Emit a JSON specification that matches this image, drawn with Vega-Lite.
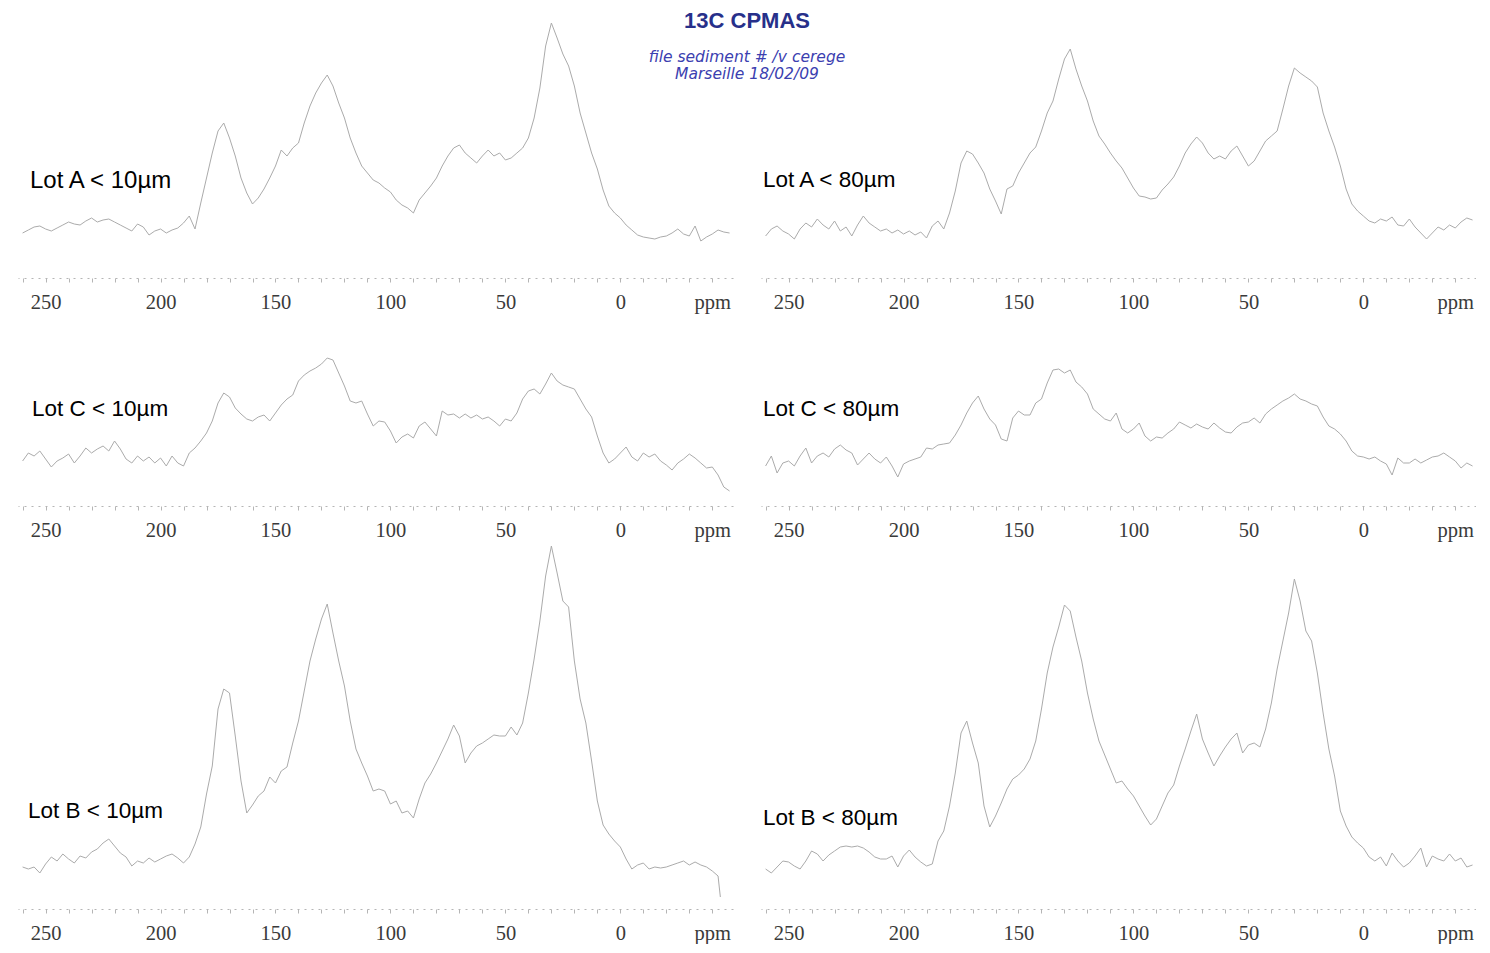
{
  "$schema": "https://vega.github.io/schema/vega-lite/v6.json",
  "background": "white",
  "padding": {"left": 18, "top": 9, "right": 0, "bottom": 0},
  "title": {
    "text": "13C CPMAS",
    "subtitle": ["file sediment # /v cerege", "Marseille 18/02/09"],
    "anchor": "middle",
    "offset": -72,
    "font": "Liberation Sans",
    "fontSize": 22,
    "fontWeight": "bold",
    "color": "#27308a",
    "subtitleFont": "DejaVu Sans",
    "subtitleFontStyle": "italic",
    "subtitleFontSize": 15.5,
    "subtitleColor": "#3b40b0",
    "subtitlePadding": 17,
    "subtitleLineHeight": 17
  },
  "data": {
    "values": [
      {"ppm": 260, "A10": 45, "A80": 42, "C10": 45, "C80": 40, "B10": 42, "B80": 40},
      {"ppm": 257.5, "A10": 48, "A80": 49, "C10": 53, "C80": 50, "B10": 40, "B80": 36},
      {"ppm": 255, "A10": 51, "A80": 52, "C10": 50, "C80": 33, "B10": 42, "B80": 42},
      {"ppm": 252.5, "A10": 52, "A80": 47, "C10": 55, "C80": 43, "B10": 36, "B80": 48},
      {"ppm": 250, "A10": 49, "A80": 44, "C10": 47, "C80": 45, "B10": 45, "B80": 47},
      {"ppm": 247.5, "A10": 47, "A80": 39, "C10": 39, "C80": 40, "B10": 52, "B80": 43},
      {"ppm": 245, "A10": 50, "A80": 49, "C10": 45, "C80": 50, "B10": 48, "B80": 40},
      {"ppm": 242.5, "A10": 53, "A80": 55, "C10": 48, "C80": 58, "B10": 55, "B80": 48},
      {"ppm": 240, "A10": 56, "A80": 51, "C10": 52, "C80": 43, "B10": 50, "B80": 58},
      {"ppm": 237.5, "A10": 54, "A80": 59, "C10": 43, "C80": 50, "B10": 46, "B80": 55},
      {"ppm": 235, "A10": 53, "A80": 53, "C10": 50, "C80": 53, "B10": 53, "B80": 48},
      {"ppm": 232.5, "A10": 57, "A80": 49, "C10": 58, "C80": 49, "B10": 51, "B80": 54},
      {"ppm": 230, "A10": 60, "A80": 57, "C10": 53, "C80": 57, "B10": 57, "B80": 58},
      {"ppm": 227.5, "A10": 56, "A80": 47, "C10": 57, "C80": 61, "B10": 60, "B80": 62},
      {"ppm": 225, "A10": 58, "A80": 51, "C10": 60, "C80": 56, "B10": 66, "B80": 63},
      {"ppm": 222.5, "A10": 59, "A80": 42, "C10": 55, "C80": 53, "B10": 70, "B80": 62},
      {"ppm": 220, "A10": 56, "A80": 53, "C10": 65, "C80": 41, "B10": 63, "B80": 63},
      {"ppm": 217.5, "A10": 53, "A80": 62, "C10": 57, "C80": 47, "B10": 56, "B80": 61},
      {"ppm": 215, "A10": 50, "A80": 55, "C10": 47, "C80": 53, "B10": 52, "B80": 57},
      {"ppm": 212.5, "A10": 47, "A80": 51, "C10": 43, "C80": 47, "B10": 43, "B80": 52},
      {"ppm": 210, "A10": 54, "A80": 47, "C10": 50, "C80": 43, "B10": 48, "B80": 50},
      {"ppm": 207.5, "A10": 51, "A80": 49, "C10": 45, "C80": 49, "B10": 46, "B80": 50},
      {"ppm": 205, "A10": 43, "A80": 45, "C10": 49, "C80": 40, "B10": 51, "B80": 53},
      {"ppm": 202.5, "A10": 47, "A80": 48, "C10": 43, "C80": 29, "B10": 47, "B80": 42},
      {"ppm": 200, "A10": 49, "A80": 44, "C10": 48, "C80": 42, "B10": 50, "B80": 53},
      {"ppm": 197.5, "A10": 45, "A80": 47, "C10": 40, "C80": 45, "B10": 53, "B80": 59},
      {"ppm": 195, "A10": 48, "A80": 43, "C10": 50, "C80": 47, "B10": 55, "B80": 52},
      {"ppm": 192.5, "A10": 50, "A80": 46, "C10": 43, "C80": 49, "B10": 51, "B80": 47},
      {"ppm": 190, "A10": 55, "A80": 40, "C10": 40, "C80": 58, "B10": 46, "B80": 43},
      {"ppm": 187.5, "A10": 62, "A80": 52, "C10": 53, "C80": 57, "B10": 52, "B80": 45},
      {"ppm": 185, "A10": 49, "A80": 57, "C10": 58, "C80": 61, "B10": 65, "B80": 68},
      {"ppm": 182.5, "A10": 75, "A80": 49, "C10": 65, "C80": 62, "B10": 82, "B80": 78},
      {"ppm": 180, "A10": 100, "A80": 65, "C10": 73, "C80": 63, "B10": 115, "B80": 103},
      {"ppm": 177.5, "A10": 125, "A80": 87, "C10": 85, "C80": 71, "B10": 143, "B80": 136},
      {"ppm": 175, "A10": 147, "A80": 115, "C10": 103, "C80": 81, "B10": 200, "B80": 176},
      {"ppm": 172.5, "A10": 155, "A80": 127, "C10": 113, "C80": 93, "B10": 220, "B80": 188},
      {"ppm": 170, "A10": 140, "A80": 124, "C10": 109, "C80": 103, "B10": 216, "B80": 166},
      {"ppm": 167.5, "A10": 122, "A80": 115, "C10": 98, "C80": 110, "B10": 173, "B80": 146},
      {"ppm": 165, "A10": 100, "A80": 105, "C10": 92, "C80": 97, "B10": 128, "B80": 103},
      {"ppm": 162.5, "A10": 85, "A80": 89, "C10": 87, "C80": 87, "B10": 96, "B80": 82},
      {"ppm": 160, "A10": 74, "A80": 77, "C10": 85, "C80": 81, "B10": 104, "B80": 93},
      {"ppm": 157.5, "A10": 80, "A80": 64, "C10": 89, "C80": 67, "B10": 113, "B80": 106},
      {"ppm": 155, "A10": 89, "A80": 89, "C10": 91, "C80": 65, "B10": 118, "B80": 120},
      {"ppm": 152.5, "A10": 100, "A80": 92, "C10": 85, "C80": 88, "B10": 132, "B80": 130},
      {"ppm": 150, "A10": 112, "A80": 105, "C10": 93, "C80": 95, "B10": 126, "B80": 134},
      {"ppm": 147.5, "A10": 128, "A80": 115, "C10": 101, "C80": 91, "B10": 138, "B80": 140},
      {"ppm": 145, "A10": 122, "A80": 125, "C10": 107, "C80": 91, "B10": 142, "B80": 150},
      {"ppm": 142.5, "A10": 130, "A80": 131, "C10": 111, "C80": 103, "B10": 166, "B80": 168},
      {"ppm": 140, "A10": 135, "A80": 147, "C10": 125, "C80": 107, "B10": 188, "B80": 200},
      {"ppm": 137.5, "A10": 155, "A80": 165, "C10": 131, "C80": 123, "B10": 218, "B80": 236},
      {"ppm": 135, "A10": 172, "A80": 177, "C10": 135, "C80": 136, "B10": 248, "B80": 262},
      {"ppm": 132.5, "A10": 185, "A80": 199, "C10": 138, "C80": 137, "B10": 270, "B80": 282},
      {"ppm": 130, "A10": 195, "A80": 219, "C10": 142, "C80": 133, "B10": 290, "B80": 304},
      {"ppm": 127.5, "A10": 203, "A80": 229, "C10": 148, "C80": 136, "B10": 305, "B80": 298},
      {"ppm": 125, "A10": 192, "A80": 209, "C10": 146, "C80": 124, "B10": 276, "B80": 272},
      {"ppm": 122.5, "A10": 175, "A80": 192, "C10": 133, "C80": 119, "B10": 248, "B80": 248},
      {"ppm": 120, "A10": 160, "A80": 177, "C10": 120, "C80": 112, "B10": 223, "B80": 216},
      {"ppm": 117.5, "A10": 140, "A80": 157, "C10": 105, "C80": 97, "B10": 188, "B80": 190},
      {"ppm": 115, "A10": 125, "A80": 142, "C10": 103, "C80": 92, "B10": 160, "B80": 168},
      {"ppm": 112.5, "A10": 112, "A80": 134, "C10": 105, "C80": 87, "B10": 146, "B80": 154},
      {"ppm": 110, "A10": 105, "A80": 125, "C10": 92, "C80": 85, "B10": 133, "B80": 140},
      {"ppm": 107.5, "A10": 98, "A80": 117, "C10": 80, "C80": 93, "B10": 118, "B80": 126},
      {"ppm": 105, "A10": 95, "A80": 110, "C10": 85, "C80": 77, "B10": 120, "B80": 128},
      {"ppm": 102.5, "A10": 90, "A80": 100, "C10": 84, "C80": 73, "B10": 118, "B80": 120},
      {"ppm": 100, "A10": 86, "A80": 90, "C10": 75, "C80": 77, "B10": 105, "B80": 113},
      {"ppm": 97.5, "A10": 78, "A80": 82, "C10": 63, "C80": 83, "B10": 108, "B80": 103},
      {"ppm": 95, "A10": 73, "A80": 81, "C10": 69, "C80": 70, "B10": 96, "B80": 93},
      {"ppm": 92.5, "A10": 70, "A80": 79, "C10": 72, "C80": 65, "B10": 98, "B80": 84},
      {"ppm": 90, "A10": 65, "A80": 80, "C10": 68, "C80": 69, "B10": 91, "B80": 90},
      {"ppm": 87.5, "A10": 78, "A80": 88, "C10": 80, "C80": 68, "B10": 110, "B80": 103},
      {"ppm": 85, "A10": 85, "A80": 94, "C10": 84, "C80": 73, "B10": 126, "B80": 116},
      {"ppm": 82.5, "A10": 92, "A80": 101, "C10": 77, "C80": 77, "B10": 135, "B80": 124},
      {"ppm": 80, "A10": 100, "A80": 112, "C10": 70, "C80": 84, "B10": 146, "B80": 143},
      {"ppm": 77.5, "A10": 112, "A80": 125, "C10": 95, "C80": 81, "B10": 158, "B80": 160},
      {"ppm": 75, "A10": 122, "A80": 134, "C10": 91, "C80": 78, "B10": 170, "B80": 178},
      {"ppm": 72.5, "A10": 130, "A80": 141, "C10": 92, "C80": 82, "B10": 184, "B80": 195},
      {"ppm": 70, "A10": 133, "A80": 135, "C10": 88, "C80": 79, "B10": 173, "B80": 170},
      {"ppm": 67.5, "A10": 125, "A80": 125, "C10": 92, "C80": 77, "B10": 146, "B80": 156},
      {"ppm": 65, "A10": 120, "A80": 119, "C10": 88, "C80": 83, "B10": 156, "B80": 143},
      {"ppm": 62.5, "A10": 115, "A80": 122, "C10": 91, "C80": 78, "B10": 163, "B80": 153},
      {"ppm": 60, "A10": 122, "A80": 119, "C10": 87, "C80": 74, "B10": 166, "B80": 162},
      {"ppm": 57.5, "A10": 128, "A80": 127, "C10": 89, "C80": 73, "B10": 170, "B80": 170},
      {"ppm": 55, "A10": 122, "A80": 132, "C10": 85, "C80": 79, "B10": 174, "B80": 176},
      {"ppm": 52.5, "A10": 125, "A80": 122, "C10": 80, "C80": 83, "B10": 173, "B80": 156},
      {"ppm": 50, "A10": 118, "A80": 112, "C10": 87, "C80": 84, "B10": 173, "B80": 164},
      {"ppm": 47.5, "A10": 120, "A80": 117, "C10": 85, "C80": 88, "B10": 182, "B80": 166},
      {"ppm": 45, "A10": 125, "A80": 127, "C10": 93, "C80": 83, "B10": 174, "B80": 162},
      {"ppm": 42.5, "A10": 130, "A80": 137, "C10": 107, "C80": 92, "B10": 186, "B80": 180},
      {"ppm": 40, "A10": 140, "A80": 142, "C10": 115, "C80": 97, "B10": 216, "B80": 206},
      {"ppm": 37.5, "A10": 160, "A80": 147, "C10": 117, "C80": 101, "B10": 250, "B80": 240},
      {"ppm": 35, "A10": 190, "A80": 169, "C10": 112, "C80": 105, "B10": 288, "B80": 268},
      {"ppm": 32.5, "A10": 232, "A80": 192, "C10": 122, "C80": 108, "B10": 333, "B80": 296},
      {"ppm": 30, "A10": 255, "A80": 210, "C10": 133, "C80": 112, "B10": 363, "B80": 330},
      {"ppm": 27.5, "A10": 240, "A80": 205, "C10": 125, "C80": 107, "B10": 336, "B80": 308},
      {"ppm": 25, "A10": 224, "A80": 201, "C10": 121, "C80": 105, "B10": 308, "B80": 278},
      {"ppm": 22.5, "A10": 212, "A80": 197, "C10": 119, "C80": 102, "B10": 302, "B80": 268},
      {"ppm": 20, "A10": 192, "A80": 191, "C10": 117, "C80": 100, "B10": 248, "B80": 236},
      {"ppm": 17.5, "A10": 165, "A80": 165, "C10": 107, "C80": 89, "B10": 210, "B80": 196},
      {"ppm": 15, "A10": 145, "A80": 147, "C10": 97, "C80": 80, "B10": 186, "B80": 160},
      {"ppm": 12.5, "A10": 125, "A80": 131, "C10": 89, "C80": 77, "B10": 148, "B80": 133},
      {"ppm": 10, "A10": 109, "A80": 112, "C10": 70, "C80": 72, "B10": 108, "B80": 98},
      {"ppm": 7.5, "A10": 88, "A80": 89, "C10": 53, "C80": 65, "B10": 84, "B80": 83},
      {"ppm": 5, "A10": 72, "A80": 74, "C10": 43, "C80": 55, "B10": 75, "B80": 72},
      {"ppm": 2.5, "A10": 65, "A80": 67, "C10": 47, "C80": 50, "B10": 68, "B80": 66},
      {"ppm": 0, "A10": 60, "A80": 62, "C10": 53, "C80": 49, "B10": 62, "B80": 61},
      {"ppm": -2.5, "A10": 53, "A80": 57, "C10": 59, "C80": 47, "B10": 50, "B80": 52},
      {"ppm": -5, "A10": 48, "A80": 55, "C10": 49, "C80": 49, "B10": 40, "B80": 48},
      {"ppm": -7.5, "A10": 43, "A80": 59, "C10": 45, "C80": 45, "B10": 44, "B80": 52},
      {"ppm": -10, "A10": 41, "A80": 57, "C10": 53, "C80": 42, "B10": 46, "B80": 43},
      {"ppm": -12.5, "A10": 40, "A80": 61, "C10": 49, "C80": 31, "B10": 40, "B80": 56},
      {"ppm": -15, "A10": 39, "A80": 53, "C10": 52, "C80": 48, "B10": 42, "B80": 48},
      {"ppm": -17.5, "A10": 41, "A80": 52, "C10": 45, "C80": 43, "B10": 41, "B80": 42},
      {"ppm": -20, "A10": 42, "A80": 59, "C10": 41, "C80": 43, "B10": 42, "B80": 46},
      {"ppm": -22.5, "A10": 45, "A80": 51, "C10": 36, "C80": 47, "B10": 44, "B80": 53},
      {"ppm": -25, "A10": 49, "A80": 45, "C10": 43, "C80": 43, "B10": 46, "B80": 61},
      {"ppm": -27.5, "A10": 44, "A80": 39, "C10": 47, "C80": 46, "B10": 48, "B80": 42},
      {"ppm": -30, "A10": 42, "A80": 45, "C10": 52, "C80": 49, "B10": 44, "B80": 53},
      {"ppm": -32.5, "A10": 52, "A80": 51, "C10": 48, "C80": 50, "B10": 47, "B80": 50},
      {"ppm": -35, "A10": 37, "A80": 48, "C10": 43, "C80": 53, "B10": 44, "B80": 48},
      {"ppm": -37.5, "A10": 41, "A80": 53, "C10": 38, "C80": 49, "B10": 42, "B80": 55},
      {"ppm": -40, "A10": 44, "A80": 50, "C10": 39, "C80": 45, "B10": 38, "B80": 48},
      {"ppm": -42.5, "A10": 48, "A80": 56, "C10": 31, "C80": 38, "B10": 33, "B80": 51},
      {"ppm": -43.5, "B10": 12},
      {"ppm": -45, "A10": 46, "A80": 60, "C10": 19, "C80": 43, "B80": 42},
      {"ppm": -47.5, "A10": 45, "A80": 58, "C10": 15, "C80": 40, "B80": 44}
    ]
  },
  "columns": 2,
  "spacing": {"row": 40, "column": 28},
  "bounds": "flush",
  "concat": [
    {
      "width": 715, "height": 267,
      "title": {"text": "Lot A < 10µm", "anchor": "start", "frame": "group", "dx": 12, "offset": -194, "baseline": "middle", "font": "Liberation Sans", "fontSize": 24, "fontWeight": "normal", "color": "#000000"},
      "transform": [{"filter": "isValid(datum.A10)"}],
      "mark": {"type": "line", "color": "#ababab", "strokeWidth": 1},
      "encoding": {
        "x": {"field": "ppm", "type": "quantitative", "scale": {"domain": [-49, 262], "reverse": true, "nice": false},
          "axis": {"title": null, "grid": false, "values": [-40,-30,-20,-10,0,10,20,30,40,50,60,70,80,90,100,110,120,130,140,150,160,170,180,190,200,210,220,230,240,250,260],
            "labelExpr": "datum.value === -40 ? 'ppm' : (datum.value % 50 === 0 ? datum.label : '')",
            "domainColor": "#b5b5b5", "domainDash": [2, 5], "tickColor": "#b5b5b5", "tickSize": 4,
            "labelFont": "Liberation Serif", "labelFontSize": 20.5, "labelColor": "#3a3a3a", "labelPadding": 10, "labelOverlap": false, "labelFlush": false}},
        "y": {"field": "A10", "type": "quantitative", "scale": {"domain": [0, 267], "nice": false}, "axis": null}
      }
    },
    {
      "width": 715, "height": 267,
      "title": {"text": "Lot A < 80µm", "anchor": "start", "frame": "group", "dx": 2, "offset": -191, "baseline": "middle", "font": "Liberation Sans", "fontSize": 22.5, "fontWeight": "normal", "color": "#000000"},
      "transform": [{"filter": "isValid(datum.A80)"}],
      "mark": {"type": "line", "color": "#ababab", "strokeWidth": 1},
      "encoding": {
        "x": {"field": "ppm", "type": "quantitative", "scale": {"domain": [-49, 262], "reverse": true, "nice": false},
          "axis": {"title": null, "grid": false, "values": [-40,-30,-20,-10,0,10,20,30,40,50,60,70,80,90,100,110,120,130,140,150,160,170,180,190,200,210,220,230,240,250,260],
            "labelExpr": "datum.value === -40 ? 'ppm' : (datum.value % 50 === 0 ? datum.label : '')",
            "domainColor": "#b5b5b5", "domainDash": [2, 5], "tickColor": "#b5b5b5", "tickSize": 4,
            "labelFont": "Liberation Serif", "labelFontSize": 20.5, "labelColor": "#3a3a3a", "labelPadding": 10, "labelOverlap": false, "labelFlush": false}},
        "y": {"field": "A80", "type": "quantitative", "scale": {"domain": [0, 267], "nice": false}, "axis": null}
      }
    },
    {
      "width": 715, "height": 188,
      "title": {"text": "Lot C < 10µm", "anchor": "start", "frame": "group", "dx": 14, "offset": -113, "baseline": "middle", "font": "Liberation Sans", "fontSize": 22.5, "fontWeight": "normal", "color": "#000000"},
      "transform": [{"filter": "isValid(datum.C10)"}],
      "mark": {"type": "line", "color": "#ababab", "strokeWidth": 1},
      "encoding": {
        "x": {"field": "ppm", "type": "quantitative", "scale": {"domain": [-49, 262], "reverse": true, "nice": false},
          "axis": {"title": null, "grid": false, "values": [-40,-30,-20,-10,0,10,20,30,40,50,60,70,80,90,100,110,120,130,140,150,160,170,180,190,200,210,220,230,240,250,260],
            "labelExpr": "datum.value === -40 ? 'ppm' : (datum.value % 50 === 0 ? datum.label : '')",
            "domainColor": "#b5b5b5", "domainDash": [2, 5], "tickColor": "#b5b5b5", "tickSize": 4,
            "labelFont": "Liberation Serif", "labelFontSize": 20.5, "labelColor": "#3a3a3a", "labelPadding": 10, "labelOverlap": false, "labelFlush": false}},
        "y": {"field": "C10", "type": "quantitative", "scale": {"domain": [0, 188], "nice": false}, "axis": null}
      }
    },
    {
      "width": 715, "height": 188,
      "title": {"text": "Lot C < 80µm", "anchor": "start", "frame": "group", "dx": 2, "offset": -113, "baseline": "middle", "font": "Liberation Sans", "fontSize": 22.5, "fontWeight": "normal", "color": "#000000"},
      "transform": [{"filter": "isValid(datum.C80)"}],
      "mark": {"type": "line", "color": "#ababab", "strokeWidth": 1},
      "encoding": {
        "x": {"field": "ppm", "type": "quantitative", "scale": {"domain": [-49, 262], "reverse": true, "nice": false},
          "axis": {"title": null, "grid": false, "values": [-40,-30,-20,-10,0,10,20,30,40,50,60,70,80,90,100,110,120,130,140,150,160,170,180,190,200,210,220,230,240,250,260],
            "labelExpr": "datum.value === -40 ? 'ppm' : (datum.value % 50 === 0 ? datum.label : '')",
            "domainColor": "#b5b5b5", "domainDash": [2, 5], "tickColor": "#b5b5b5", "tickSize": 4,
            "labelFont": "Liberation Serif", "labelFontSize": 20.5, "labelColor": "#3a3a3a", "labelPadding": 10, "labelOverlap": false, "labelFlush": false}},
        "y": {"field": "C80", "type": "quantitative", "scale": {"domain": [0, 188], "nice": false}, "axis": null}
      }
    },
    {
      "width": 715, "height": 363,
      "title": {"text": "Lot B < 10µm", "anchor": "start", "frame": "group", "dx": 10, "offset": -289, "baseline": "middle", "font": "Liberation Sans", "fontSize": 22.5, "fontWeight": "normal", "color": "#000000"},
      "transform": [{"filter": "isValid(datum.B10)"}],
      "mark": {"type": "line", "color": "#ababab", "strokeWidth": 1},
      "encoding": {
        "x": {"field": "ppm", "type": "quantitative", "scale": {"domain": [-49, 262], "reverse": true, "nice": false},
          "axis": {"title": null, "grid": false, "values": [-40,-30,-20,-10,0,10,20,30,40,50,60,70,80,90,100,110,120,130,140,150,160,170,180,190,200,210,220,230,240,250,260],
            "labelExpr": "datum.value === -40 ? 'ppm' : (datum.value % 50 === 0 ? datum.label : '')",
            "domainColor": "#b5b5b5", "domainDash": [2, 5], "tickColor": "#b5b5b5", "tickSize": 4,
            "labelFont": "Liberation Serif", "labelFontSize": 20.5, "labelColor": "#3a3a3a", "labelPadding": 10, "labelOverlap": false, "labelFlush": false}},
        "y": {"field": "B10", "type": "quantitative", "scale": {"domain": [0, 363], "nice": false}, "axis": null}
      }
    },
    {
      "width": 715, "height": 363,
      "title": {"text": "Lot B < 80µm", "anchor": "start", "frame": "group", "dx": 2, "offset": -294, "baseline": "middle", "font": "Liberation Sans", "fontSize": 22.5, "fontWeight": "normal", "color": "#000000"},
      "transform": [{"filter": "isValid(datum.B80)"}],
      "mark": {"type": "line", "color": "#ababab", "strokeWidth": 1},
      "encoding": {
        "x": {"field": "ppm", "type": "quantitative", "scale": {"domain": [-49, 262], "reverse": true, "nice": false},
          "axis": {"title": null, "grid": false, "values": [-40,-30,-20,-10,0,10,20,30,40,50,60,70,80,90,100,110,120,130,140,150,160,170,180,190,200,210,220,230,240,250,260],
            "labelExpr": "datum.value === -40 ? 'ppm' : (datum.value % 50 === 0 ? datum.label : '')",
            "domainColor": "#b5b5b5", "domainDash": [2, 5], "tickColor": "#b5b5b5", "tickSize": 4,
            "labelFont": "Liberation Serif", "labelFontSize": 20.5, "labelColor": "#3a3a3a", "labelPadding": 10, "labelOverlap": false, "labelFlush": false}},
        "y": {"field": "B80", "type": "quantitative", "scale": {"domain": [0, 363], "nice": false}, "axis": null}
      }
    }
  ],
  "config": {
    "view": {"stroke": null}
  }
}
